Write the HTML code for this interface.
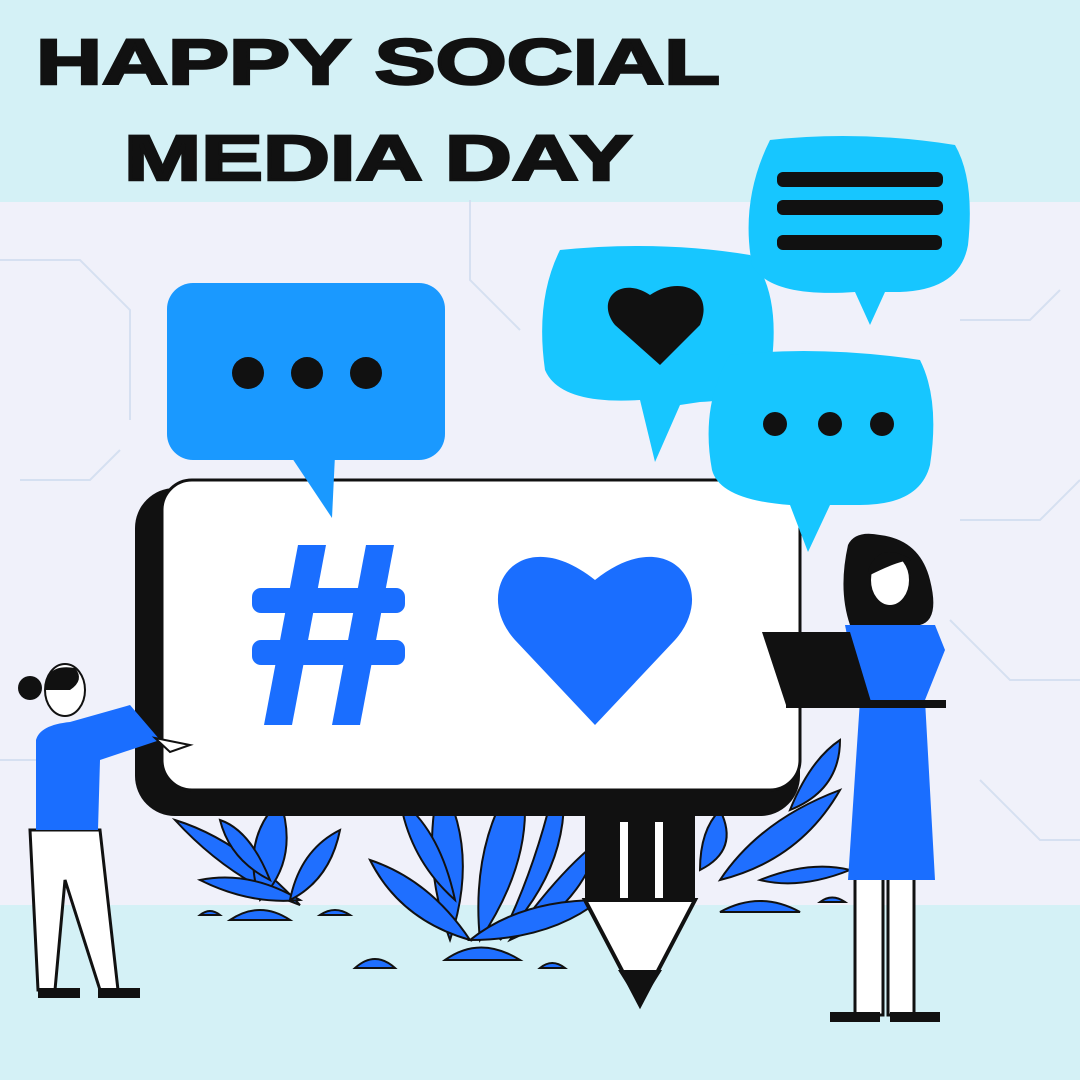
<!DOCTYPE html>
<html><head><meta charset="utf-8">
<style>
html,body{margin:0;padding:0;width:1080px;height:1080px;overflow:hidden;background:#f0f1fa;}
svg{display:block}
text{font-family:"Liberation Sans",sans-serif;font-weight:bold;}
</style></head>
<body>
<svg width="1080" height="1080" viewBox="0 0 1080 1080">
  <rect x="0" y="0" width="1080" height="1080" fill="#f0f1fa"/>
  <rect x="0" y="0" width="1080" height="202" fill="#d4f1f6"/>
  <rect x="0" y="905" width="1080" height="175" fill="#d4f1f6"/>
  <g stroke="#cfdcef" stroke-width="2" fill="none" opacity="0.8">
    <path d="M0 260 L80 260 L130 310 L130 420"/><path d="M20 480 L90 480 L120 450"/>
    <path d="M960 520 L1040 520 L1080 480"/><path d="M950 620 L1010 680 L1080 680"/>
    <path d="M470 200 L470 280 L520 330"/><path d="M960 320 L1030 320 L1060 290"/>
    <path d="M0 760 L60 760 L90 790"/><path d="M980 780 L1040 840 L1080 840"/>
  </g>

  <text x="36" y="84" font-size="64" fill="#111" stroke="#111" stroke-width="2.5" textLength="684" lengthAdjust="spacingAndGlyphs">HAPPY SOCIAL</text>
  <text x="124" y="180" font-size="64" fill="#111" stroke="#111" stroke-width="2.5" textLength="508" lengthAdjust="spacingAndGlyphs">MEDIA DAY</text>

  <!-- plants -->
  <g stroke="#111" stroke-width="2" fill="#1f6fff">
    <path d="M175 820 Q240 840 300 905 Q230 880 175 820Z"/>
    <path d="M260 900 Q240 840 280 800 Q300 860 260 900Z"/>
    <path d="M200 880 Q250 870 300 900 Q250 905 200 880Z"/>
    <path d="M290 900 Q300 850 340 830 Q330 880 290 900Z"/>
    <path d="M220 820 Q250 830 270 880 Q230 860 220 820Z"/>
    <path d="M450 940 Q420 860 440 780 Q480 850 450 940Z"/>
    <path d="M480 940 Q470 840 520 770 Q540 850 480 940Z"/>
    <path d="M500 940 Q540 860 560 760 Q580 860 500 940Z"/>
    <path d="M370 860 Q430 880 470 940 Q400 920 370 860Z"/>
    <path d="M510 940 Q560 870 600 840 Q580 910 510 940Z"/>
    <path d="M470 940 Q520 900 600 900 Q550 940 470 940Z"/>
    <path d="M400 800 Q440 830 455 900 Q410 860 400 800Z"/>
    <path d="M720 880 Q760 820 840 790 Q800 860 720 880Z"/>
    <path d="M700 870 Q700 830 720 810 Q740 850 700 870Z"/>
    <path d="M760 880 Q810 860 850 870 Q800 890 760 880Z"/>
    <path d="M790 810 Q810 760 840 740 Q840 790 790 810Z"/>
    <path d="M230 920 Q260 900 290 920Z"/><path d="M445 960 Q480 935 520 960Z"/>
    <path d="M355 968 Q375 950 395 968Z"/><path d="M720 912 Q760 890 800 912Z"/>
    <path d="M320 915 Q335 905 350 915Z"/><path d="M540 968 Q552 958 565 968Z"/>
    <path d="M200 915 Q210 907 220 915Z"/><path d="M820 902 Q832 893 845 902Z"/>
  </g>

  <!-- pencil stand -->
  <g>
    <rect x="585" y="790" width="110" height="110" fill="#111"/>
    <rect x="620" y="822" width="8" height="78" fill="#fff"/><rect x="655" y="822" width="8" height="78" fill="#fff"/>
    <path d="M585 900 L695 900 L640 1005 Z" fill="#fff" stroke="#111" stroke-width="4"/>
    <path d="M618 970 L662 970 L640 1005Z" fill="#111"/>
  </g>

  <!-- monitor -->
  <g>
    <rect x="135" y="488" width="665" height="328" rx="40" fill="#111"/>
    <rect x="162" y="480" width="638" height="310" rx="30" fill="#fff" stroke="#111" stroke-width="3"/>
    <g fill="#1a6eff">
      <rect x="252" y="588" width="153" height="25" rx="9"/>
      <rect x="252" y="640" width="153" height="25" rx="9"/>
      <path d="M298 545 L326 545 L292 725 L264 725Z"/>
      <path d="M366 545 L394 545 L360 725 L332 725Z"/>
    </g>
    <path d="M595 725 L515 640 C470 590 520 520 595 580 C670 520 720 590 675 640 Z" fill="#1a6eff"/>
  </g>

  <!-- bubbles -->
  <g>
    <rect x="167" y="283" width="278" height="177" rx="26" fill="#1a99ff"/>
    <path d="M290 455 L332 518 L335 455Z" fill="#1a99ff"/>
    <circle cx="248" cy="373" r="16" fill="#111"/><circle cx="307" cy="373" r="16" fill="#111"/><circle cx="366" cy="373" r="16" fill="#111"/>
  </g>
  <g>
    <path d="M560 250 Q660 240 750 255 Q780 290 772 360 Q760 400 700 402 L680 405 L655 462 L640 400 Q560 405 545 370 Q535 300 560 250Z" fill="#17c6ff"/>
    <path d="M660 365 L615 325 C595 300 620 275 650 295 C680 275 715 290 700 325Z" fill="#111"/>
  </g>
  <g>
    <path d="M770 140 Q860 130 955 145 Q975 180 968 245 Q960 290 900 292 L885 292 L870 325 L855 292 Q770 298 752 265 Q740 200 770 140Z" fill="#17c6ff"/>
    <rect x="777" y="172" width="166" height="15" rx="6" fill="#111"/>
    <rect x="777" y="200" width="166" height="15" rx="6" fill="#111"/>
    <rect x="777" y="235" width="165" height="15" rx="6" fill="#111"/>
  </g>
  <g>
    <path d="M730 355 Q820 345 920 360 Q940 400 930 465 Q920 505 860 505 L830 505 L808 552 L790 505 Q720 500 712 470 Q700 405 730 355Z" fill="#17c6ff"/>
    <circle cx="775" cy="424" r="12" fill="#111"/><circle cx="830" cy="424" r="12" fill="#111"/><circle cx="882" cy="424" r="12" fill="#111"/>
  </g>

  <!-- left person -->
  <g>
    <path d="M30 830 L100 830 L118 990 L100 990 L65 880 L55 990 L38 990 Z" fill="#fff" stroke="#111" stroke-width="3"/>
    <path d="M36 740 Q40 725 70 722 L130 705 L160 740 L100 760 L98 830 L36 830Z" fill="#1a6eff"/>
    <path d="M155 738 L190 745 L170 752Z" fill="#fff" stroke="#111" stroke-width="2"/>
    <ellipse cx="65" cy="690" rx="20" ry="26" fill="#fff" stroke="#111" stroke-width="2"/>
    <path d="M45 690 Q45 663 75 668 Q85 680 70 690Z" fill="#111"/><circle cx="30" cy="688" r="12" fill="#111"/>
    <rect x="38" y="988" width="42" height="10" fill="#111"/><rect x="98" y="988" width="42" height="10" fill="#111"/>
  </g>

  <!-- right person -->
  <g>
    <rect x="855" y="875" width="28" height="140" fill="#fff" stroke="#111" stroke-width="3"/>
    <rect x="888" y="875" width="26" height="140" fill="#fff" stroke="#111" stroke-width="3"/>
    <path d="M845 625 L935 625 L945 650 L925 700 L935 880 L848 880 L860 700Z" fill="#1a6eff"/>
    <path d="M848 545 Q855 530 880 535 Q920 540 930 580 Q940 620 920 625 L850 625 Q838 590 848 545Z" fill="#111"/>
    <ellipse cx="890" cy="580" rx="20" ry="26" fill="#fff" stroke="#111" stroke-width="2"/>
    <path d="M868 570 Q880 540 912 560 Q900 560 870 575Z" fill="#111"/>
    <path d="M762 632 L850 632 L872 705 L786 705Z" fill="#111"/>
    <rect x="786" y="700" width="160" height="8" fill="#111"/>
    <path d="M830 1012 L880 1012 L880 1022 L830 1022Z" fill="#111"/><path d="M890 1012 L940 1012 L940 1022 L890 1022Z" fill="#111"/>
  </g>
</svg>
</body></html>
